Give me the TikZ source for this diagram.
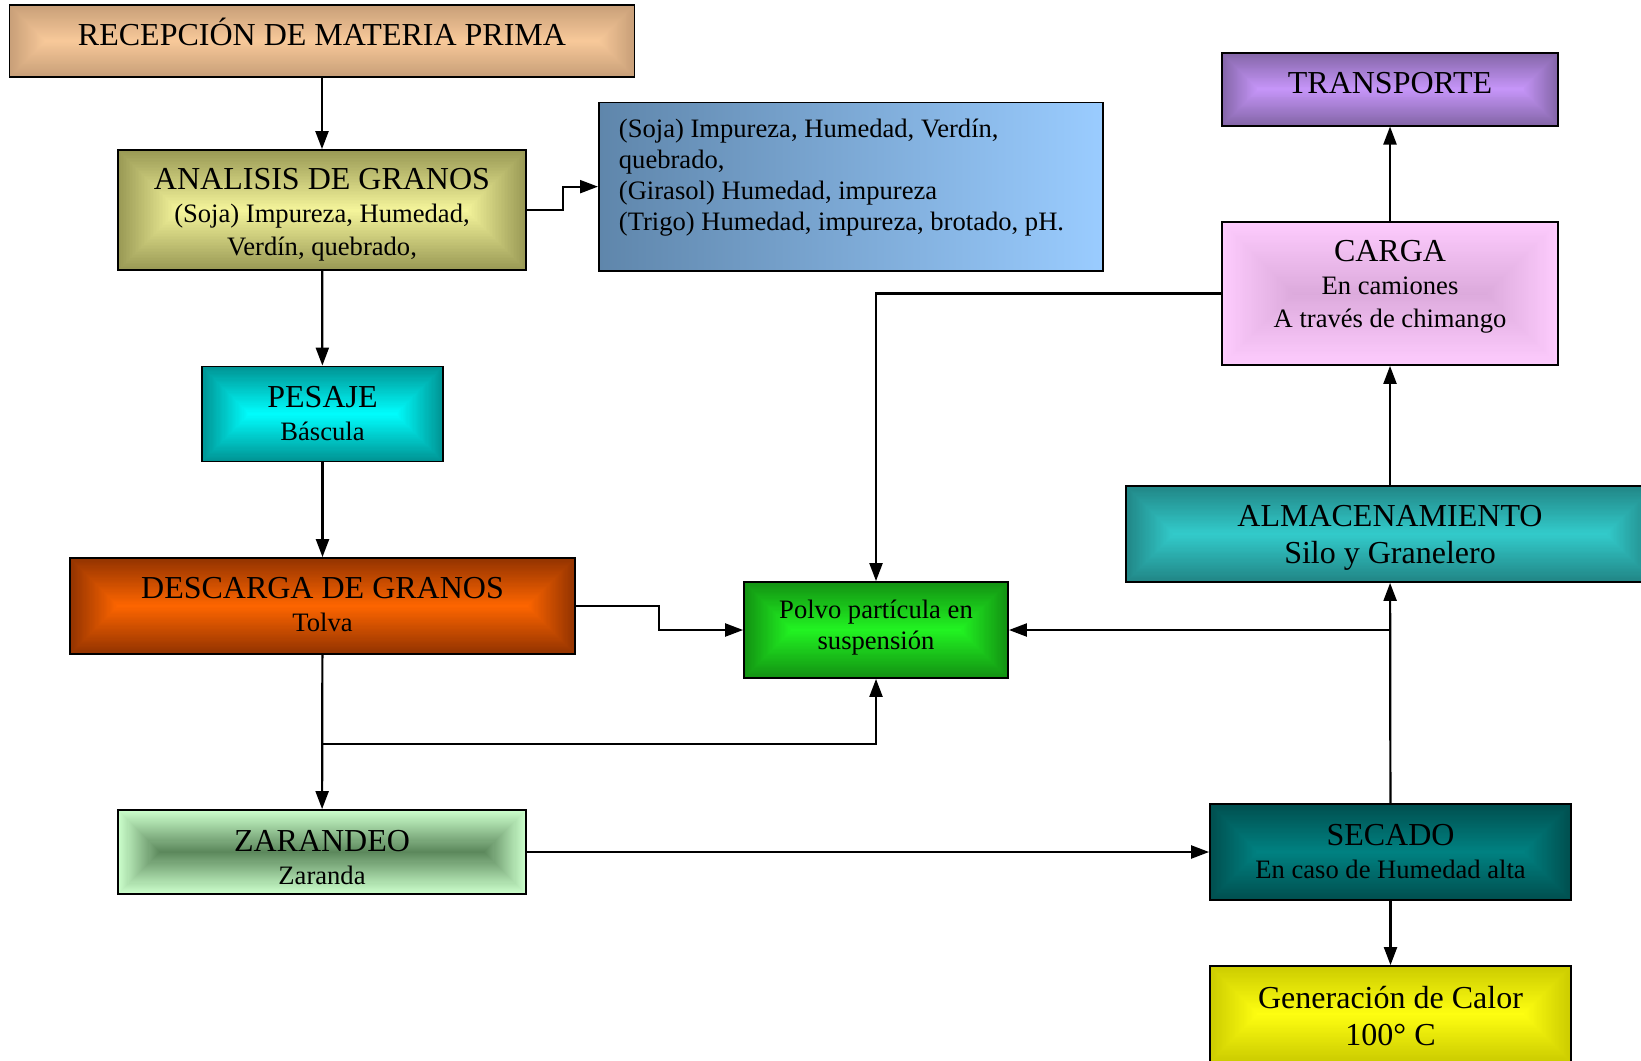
\documentclass[tikz,border=0pt]{standalone}
\usepackage{fontspec}
\setmainfont{Liberation Serif}
\usepackage{tikz}
\usetikzlibrary{arrows.meta, calc}
\definecolor{recepout}{HTML}{C89F78}
\definecolor{recepin}{HTML}{F8C99A}
\definecolor{analout}{HTML}{999955}
\definecolor{analin}{HTML}{F6F69C}
\definecolor{infoleft}{HTML}{5F86AB}
\definecolor{inforight}{HTML}{9ACCFF}
\definecolor{pesout}{HTML}{009494}
\definecolor{pesin}{HTML}{00FFFF}
\definecolor{descout}{HTML}{933300}
\definecolor{descin}{HTML}{FF6600}
\definecolor{polvout}{HTML}{129212}
\definecolor{polvin}{HTML}{22F522}
\definecolor{zarout}{HTML}{CCFFCC}
\definecolor{zarin}{HTML}{5A865A}
\definecolor{transout}{HTML}{8466A8}
\definecolor{transin}{HTML}{C796FA}
\definecolor{cargout}{HTML}{FDCBFD}
\definecolor{cargin}{HTML}{DCAADC}
\definecolor{almout}{HTML}{218686}
\definecolor{almin}{HTML}{33CCCC}
\definecolor{secout}{HTML}{004F4F}
\definecolor{secin}{HTML}{008282}
\definecolor{calout}{HTML}{CCCC00}
\definecolor{calin}{HTML}{FFFF11}
\newcommand{\boxtitle}{\fontsize{16}{16.5}\selectfont}
\newcommand{\boxsub}{\fontsize{13.3}{15.5}\selectfont}
% struts that push the text of a box down or up
\newcommand{\sink}[1]{\rule{0pt}{#1}}
\newcommand{\lift}[1]{\rule[-#1]{0pt}{0pt}}

\begin{document}
\begin{tikzpicture}[
    x=0.5pt, y=-0.5pt,
    box/.style={draw=black, line width=0.9pt, rectangle, align=center,
                inner sep=0pt, font=\boxtitle},
    % gradient from the centre, same inset on every side:
    % #1 inner colour, #2 outer colour
    grad/.style 2 args={fill=#2, path picture={
        \foreach \k in {1,...,40}{
          \pgfmathsetmacro{\pc}{\k*2.5}
          \fill[#1!\pc!#2]
            let \p1=(path picture bounding box.north west),
                \p2=(path picture bounding box.south east),
                \n1={\k/40*(\y1-\y2)/2} in
            (\x1+\n1, \y1-\n1) rectangle (\x2-\n1, \y2+\n1);
        }}},
    infobox/.style={draw=black, line width=0.9pt, rectangle, align=flush left,
                    inner xsep=10pt, inner ysep=6pt, font=\boxsub,
                    left color=infoleft, right color=inforight},
    conn/.style={-{Triangle[length=9pt, width=6.5pt]}, line width=1.1pt},
  ]

  \def\u{0.5pt}   % one pixel of the sheet

  \useasboundingbox (0,0) rectangle (1641,1060);

  % =========================================================
  %  LEFT COLUMN — reception to screening
  % =========================================================
  \node[box, minimum width=625*\u, minimum height=72*\u,
        text height=11pt, text depth=6.3pt,
        grad={recepin}{recepout}] (recep) at (322,41)
    {RECEPCIÓN DE MATERIA PRIMA};

  \node[box, minimum width=408*\u, minimum height=120*\u,
        grad={analin}{analout}] (analisis) at (322,210)
    {\sink{15.3pt}ANALISIS DE GRANOS\\ \boxsub (Soja) Impureza, Humedad,\\
     \boxsub Verdín, quebrado,};

  \node[infobox, anchor=north west, text width=232pt,
        text height=11.5pt, text depth=60.75pt] (soja) at (598,101.5)
    {(Soja) Impureza, Humedad, Verdín,\\ quebrado,\\ (Girasol) Humedad, impureza\\
     (Trigo) Humedad, impureza, brotado, pH.};

  \node[box, minimum width=241*\u, minimum height=95*\u,
        grad={pesin}{pesout}] (pesaje) at (322.5,414)
    {PESAJE\\ \boxsub Báscula\lift{1pt}};

  \node[box, minimum width=505*\u, minimum height=96*\u,
        grad={descin}{descout}] (descarga) at (322.5,606)
    {DESCARGA DE GRANOS\\ \boxsub Tolva\lift{1.6pt}};

  \node[box, minimum width=408*\u, minimum height=84*\u,
        grad={zarin}{zarout}] (zarandeo) at (322,852)
    {\sink{15.7pt}ZARANDEO\\ \boxsub Zaranda};

  % dust node in the middle
  \node[box, font=\boxsub, minimum width=264*\u, minimum height=96*\u,
        grad={polvin}{polvout}] (polvo) at (876,630)
    {Polvo partícula en\\ suspensión\lift{4.9pt}};

  % =========================================================
  %  RIGHT COLUMN — drying to transport
  % =========================================================
  \node[box, minimum width=361*\u, minimum height=96*\u,
        grad={secin}{secout}] (secado) at (1390.5,852)
    {SECADO\\ \boxsub En caso de Humedad alta\lift{1pt}};

  \node[box, minimum width=361*\u, minimum height=96*\u,
        grad={calin}{calout}] (calor) at (1390.5,1014)
    {\sink{13pt}Generación de Calor\\[2pt] 100° C};

  \node[box, minimum width=528*\u, minimum height=96*\u,
        grad={almin}{almout}] (almac) at (1390,534)
    {\sink{14.7pt}ALMACENAMIENTO\\[2pt] Silo y Granelero};

  \node[box, minimum width=336*\u, minimum height=143*\u,
        grad={cargin}{cargout}] (carga) at (1390,293.5)
    {CARGA\\ \boxsub En camiones\\ \boxsub A través de chimango\lift{9.7pt}};

  \node[box, minimum width=336*\u, minimum height=72.6*\u,
        text height=11pt, text depth=7.3pt,
        grad={transin}{transout}] (transporte) at (1390,89.3)
    {TRANSPORTE};

  % =========================================================
  %  CONNECTORS
  % =========================================================
  \draw[conn] (recep) -- (analisis);
  \draw[conn] (analisis.east) -- ++(36,0) |- (soja.west);
  \draw[conn] (analisis) -- (pesaje);
  \draw[conn] (pesaje) -- (descarga);
  \draw[conn] (descarga.east) -- ++(83,0) |- (polvo.west);
  \draw[conn] (descarga) -- (zarandeo);

  % branch below the hopper goes up into the dust node
  \coordinate (split) at (322,744);
  \draw[conn] (split) -| (polvo.south);

  \draw[conn] (zarandeo.east) -- (secado.west);
  \draw[conn] (secado) -- (almac);
  \draw[conn] (secado) -- (calor);

  % branch from the drier column into the dust node
  \coordinate (jsec) at (secado.north |- polvo.east);
  \draw[conn] (jsec) -- (polvo.east);

  \draw[conn] (almac) -- (carga);
  \draw[conn] (carga) -- (transporte);
  \draw[conn] (carga.west) -| (polvo.north);

\end{tikzpicture}
\end{document}
